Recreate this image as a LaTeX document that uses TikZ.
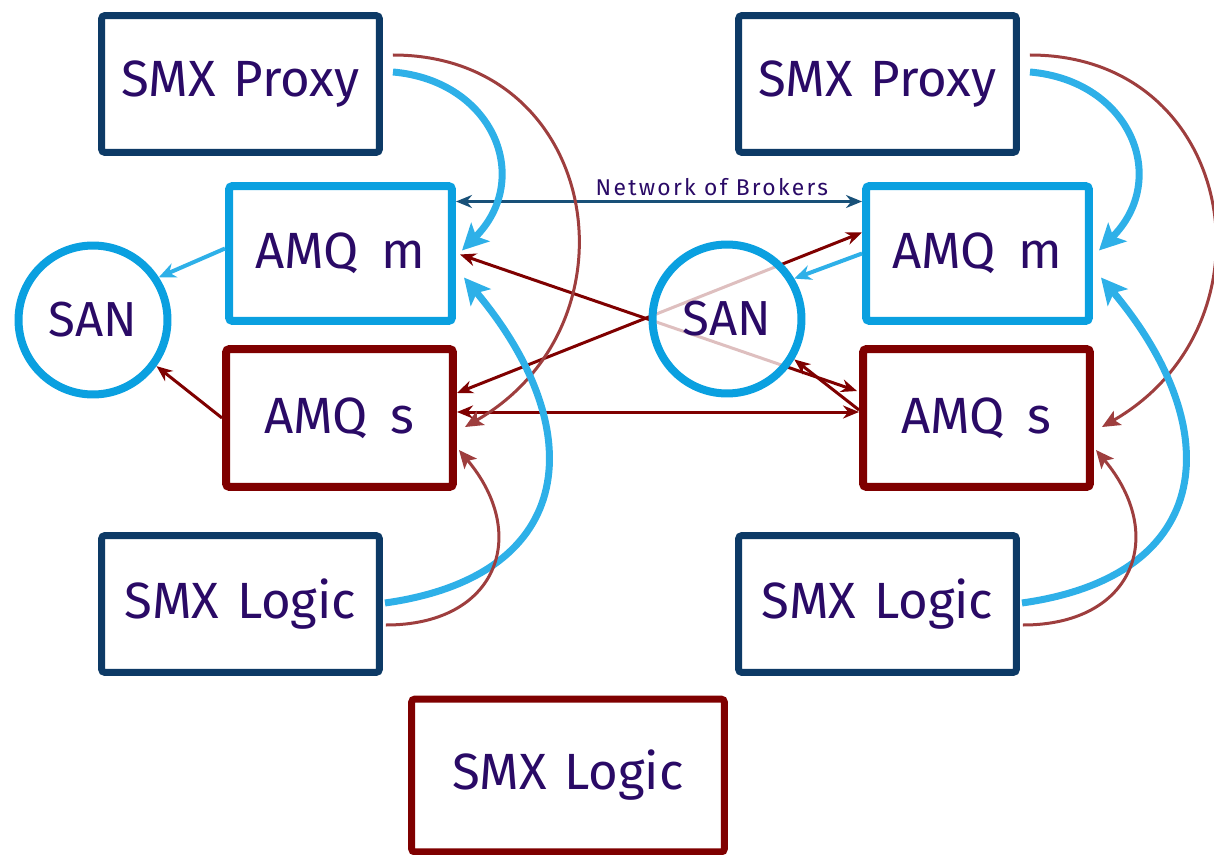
\documentclass[tikz,border=0pt]{standalone}
\usepackage{fontspec}
\setmainfont{Fira Sans}
\usetikzlibrary{
    arrows.meta,
    calc,
    positioning
}

\definecolor{navy}{HTML}{0D3A66}
\definecolor{sky}{HTML}{0AA0E0}
\definecolor{skyflow}{HTML}{2EB0E8}
\definecolor{wine}{HTML}{7F0000}
\definecolor{rust}{HTML}{9E3E3E}
\definecolor{ink}{HTML}{2A0A66}
\definecolor{netblue}{HTML}{185078}

\tikzset{
    box/.style={draw, fill=white, rounded corners=2pt, inner sep=0pt, text=ink,
        font=\fontsize{29}{31}\selectfont},
    smx/.style={box, draw=navy, line width=0.14cm, minimum width=5.56cm, minimum height=2.74cm},
    master/.style={box, draw=sky, line width=0.16cm, minimum width=4.46cm, minimum height=2.70cm},
    slave/.style={box, draw=wine, line width=0.16cm, minimum width=4.54cm, minimum height=2.76cm},
    spare/.style={box, draw=wine, line width=0.14cm, minimum width=6.26cm, minimum height=3.06cm},
    san/.style={circle, draw=sky, line width=0.16cm, fill=white, inner sep=0pt,
        minimum size=2.98cm, text=ink, font=\fontsize{28}{30}\selectfont},
    feed/.style={skyflow, line width=0.14cm,
        -{Stealth[length=0.52cm, width=0.52cm, inset=0.12cm]}},
    reply/.style={rust, line width=0.06cm,
        -{Stealth[length=0.36cm, width=0.32cm, inset=0.08cm]}},
    link/.style={wine, line width=0.06cm,
        {Stealth[length=0.32cm, width=0.26cm]}-{Stealth[length=0.32cm, width=0.26cm]}},
    net/.style={netblue, line width=0.06cm,
        {Stealth[length=0.32cm, width=0.26cm]}-{Stealth[length=0.32cm, width=0.26cm]}},
    store/.style={skyflow, line width=0.08cm, -{Stealth[length=0.34cm, width=0.3cm]}},
    storeback/.style={wine, line width=0.06cm, -{Stealth[length=0.32cm, width=0.26cm]}}
}

\begin{document}
\begin{tikzpicture}[x=0.02cm, y=0.02cm]
    \useasboundingbox (0,0) rectangle (1214,-855);

    % left site
    \node[smx]    (proxyL) at (240.5,-84)    {SMX\hspace{.35em}Proxy};
    \node[master] (amqmL)  at (340.5,-253.5) {AMQ\hspace{.45em}m};
    \node[slave]  (amqsL)  at (339.5,-418)   {AMQ\hspace{.45em}s};
    \node[smx]    (logicL) at (240.5,-604)   {SMX\hspace{.35em}Logic};
    \node[san]    (sanL)   at (93,-320)      {SAN};

    % right site
    \node[smx]    (proxyR) at (877.5,-84)    {SMX\hspace{.35em}Proxy};
    \node[master] (amqmR)  at (977.5,-253.5) {AMQ\hspace{.45em}m};
    \node[slave]  (amqsR)  at (976.5,-418)   {AMQ\hspace{.45em}s};
    \node[smx]    (logicR) at (877.5,-604)   {SMX\hspace{.35em}Logic};

    \node[spare]  (logicB) at (568,-775.5)   {SMX\hspace{.35em}Logic};

    % master/slave links across the sites
    \draw[link] ($(amqmL.east)+(4,-1)$) -- ($(amqsR.west)+(-2,27)$);
    \draw[link] ($(amqsL.east)+(0,25)$) -- ($(amqmR.west)+(0,21)$);
    \draw[link] ($(amqsL.east)+(0,6)$) -- ($(amqsR.west)+(0,6)$);

    \node[san, fill opacity=0.75, text opacity=1] (sanM) at (727,-319) {SAN};

    \draw[net] ($(amqmL.east)+(0,52)$) --
        node[pos=0.63, above=-1pt, text=ink,
            font=\fontsize{13}{15}\selectfont\addfontfeature{LetterSpace=10}] (nob)
        {Network of Brokers} ($(amqmR.west)+(0,52)$);

    % storage
    \draw[store] ($(amqmL.west)+(0,5)$) -- (sanL.33);
    \draw[storeback] (amqsL.west) -- (sanL.-36);
    \draw[store] (amqmR.west) -- (sanM.31);
    \draw[storeback] ($(amqsR.west)+(0,8)$) -- (sanM.-31);

    % proxy and logic to the brokers
    \foreach \s in {L,R} {
        \draw[feed]  ($(proxy\s.east)+(10,12)$) to[out=-5, in=45, looseness=1.35] ($(amqm\s.east)+(6,3)$);
        \draw[reply] ($(proxy\s.east)+(10,29)$) to[out=0, in=30, looseness=1.4]   ($(amqs\s.east)+(8,-9)$);
        \draw[feed]  ($(logic\s.east)+(2,1)$)   to[out=8, in=-50, looseness=1.5]  ($(amqm\s.east)+(8,-24)$);
        \draw[reply] ($(logic\s.east)+(3,-21)$) to[out=0, in=-50, looseness=1.5]  ($(amqs\s.east)+(2,-32)$);
    }
\end{tikzpicture}
\end{document}
